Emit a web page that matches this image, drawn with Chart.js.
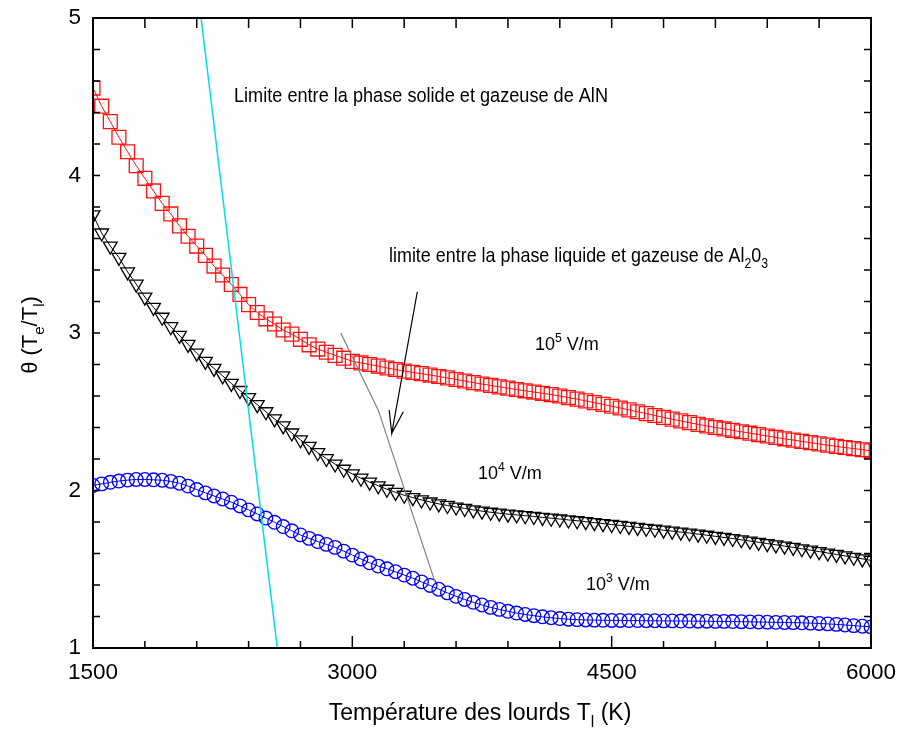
<!DOCTYPE html>
<html>
<head>
<meta charset="utf-8">
<script src="https://cdn.jsdelivr.net/npm/chart.js@4"></script>
<style>
  html, body { margin: 0; padding: 0; background: #fff; }
  #wrap { width: 899px; height: 737px; }
</style>
</head>
<body>
<div id="wrap"><canvas id="graph"></canvas></div>
<script>
// - - - - - - - - - - Données - - - - - - - - - -

// Température des lourds (K)
const temperatures = [
  1500, 1550, 1600, 1650, 1700, 1750, 1800, 1850, 1900, 1950,
  2000, 2050, 2100, 2150, 2200, 2250, 2300, 2350, 2400, 2450,
  2500, 2550, 2600, 2650, 2700, 2750, 2800, 2850, 2900, 2950,
  3000, 3050, 3100, 3150, 3200, 3250, 3300, 3350, 3400, 3450,
  3500, 3550, 3600, 3650, 3700, 3750, 3800, 3850, 3900, 3950,
  4000, 4050, 4100, 4150, 4200, 4250, 4300, 4350, 4400, 4450,
  4500, 4550, 4600, 4650, 4700, 4750, 4800, 4850, 4900, 4950,
  5000, 5050, 5100, 5150, 5200, 5250, 5300, 5350, 5400, 5450,
  5500, 5550, 5600, 5650, 5700, 5750, 5800, 5850, 5900, 5950,
  6000
];

// theta = Te/Tl pour E = 10^5 V/m
const theta_1e5 = [
  4.555, 4.440, 4.342, 4.243, 4.151, 4.062, 3.982, 3.902, 3.823, 3.756,
  3.680, 3.614, 3.552, 3.493, 3.425, 3.368, 3.308, 3.245, 3.180, 3.130,
  3.090, 3.057, 3.019, 2.993, 2.960, 2.925, 2.898, 2.878, 2.858, 2.840,
  2.820, 2.810, 2.800, 2.790, 2.778, 2.768, 2.758, 2.750, 2.742, 2.733,
  2.724, 2.715, 2.705, 2.695, 2.685, 2.676, 2.667, 2.658, 2.650, 2.641,
  2.633, 2.625, 2.617, 2.609, 2.600, 2.590, 2.580, 2.569, 2.558, 2.547,
  2.535, 2.524, 2.512, 2.500, 2.488, 2.476, 2.464, 2.453, 2.442, 2.431,
  2.420, 2.410, 2.400, 2.391, 2.382, 2.373, 2.364, 2.355, 2.346, 2.337,
  2.328, 2.320, 2.312, 2.304, 2.296, 2.288, 2.280, 2.273, 2.266, 2.259,
  2.252
];

// theta pour E = 10^4 V/m
const theta_1e4 = [
  3.750, 3.635, 3.552, 3.480, 3.388, 3.310, 3.228, 3.163, 3.100, 3.040,
  2.985, 2.928, 2.872, 2.820, 2.775, 2.728, 2.680, 2.635, 2.590, 2.545,
  2.500, 2.455, 2.410, 2.365, 2.322, 2.280, 2.240, 2.203, 2.168, 2.135,
  2.105, 2.078, 2.053, 2.030, 2.008, 1.988, 1.970, 1.955, 1.940, 1.927,
  1.915, 1.905, 1.895, 1.886, 1.877, 1.869, 1.862, 1.856, 1.850, 1.845,
  1.840, 1.835, 1.829, 1.824, 1.819, 1.813, 1.808, 1.802, 1.796, 1.790,
  1.784, 1.778, 1.772, 1.766, 1.760, 1.754, 1.748, 1.742, 1.736, 1.730,
  1.723, 1.716, 1.709, 1.702, 1.695, 1.687, 1.679, 1.671, 1.663, 1.655,
  1.647, 1.639, 1.630, 1.621, 1.612, 1.603, 1.594, 1.585, 1.576, 1.566,
  1.556
];

// theta pour E = 10^3 V/m
const theta_1e3 = [
  2.032, 2.042, 2.052, 2.060, 2.066, 2.070, 2.070, 2.068, 2.065, 2.058,
  2.046, 2.028, 2.006, 1.985, 1.965, 1.946, 1.926, 1.902, 1.877, 1.851,
  1.825, 1.798, 1.771, 1.744, 1.718, 1.696, 1.676, 1.658, 1.639, 1.615,
  1.590, 1.565, 1.541, 1.520, 1.503, 1.484, 1.463, 1.443, 1.420, 1.397,
  1.373, 1.350, 1.328, 1.308, 1.290, 1.273, 1.258, 1.245, 1.233, 1.222,
  1.213, 1.205, 1.198, 1.192, 1.187, 1.183, 1.180, 1.178, 1.177, 1.176,
  1.175, 1.175, 1.174, 1.174, 1.173, 1.173, 1.172, 1.172, 1.171, 1.171,
  1.170, 1.170, 1.169, 1.169, 1.168, 1.167, 1.166, 1.165, 1.164, 1.163,
  1.162, 1.161, 1.160, 1.158, 1.156, 1.153, 1.150, 1.146, 1.142, 1.138,
  1.134
];

// limite solide / gaz de AlN (ligne cyan)
const limite_AlN_T = [2125, 2566];
const limite_AlN_theta = [5, 1];

// limite liquide / gaz de Al2O3 (ligne grise)
const limite_Al2O3_T = [2933, 3150, 3478];
const limite_Al2O3_theta = [3.0, 2.51, 1.42];

// flèche : départ, pointe, aile gauche, pointe, aile droite
const fleche_T = [3376, 3228, 3213, 3228, 3295];
const fleche_theta = [3.262, 2.363, 2.511, 2.363, 2.50];

// graduations
const xTickLabels = [1500, 3000, 4500, 6000];
const xMinorTicks = [1500, 1800, 2100, 2400, 2700, 3000, 3300, 3600, 3900, 4200, 4500, 4800, 5100, 5400, 5700, 6000];
const yTickLabels = [1, 2, 3, 4, 5];
const yMinorTicks = [1.2, 1.4, 1.6, 1.8, 2, 2.2, 2.4, 2.6, 2.8, 3, 3.2, 3.4, 3.6, 3.8, 4, 4.2, 4.4, 4.6, 4.8];

const FONT = "'Liberation Sans', Arial, Helvetica, sans-serif";

function pts(xs, ys) {
  return xs.map((x, i) => ({ x: x, y: ys[i] }));
}

// texte avec indices / exposants
function drawRich(ctx, parts, x, y, size, opts) {
  opts = opts || {};
  const seg = parts.map(p => {
    const s = (p.sub || p.sup) ? size * 0.68 : size;
    ctx.font = s + 'px ' + FONT;
    return { t: p.t, s: s, w: ctx.measureText(p.t).width, dy: p.sub ? size * 0.3 : (p.sup ? -size * 0.42 : 0) };
  });
  const total = seg.reduce((a, b) => a + b.w, 0);
  const sx = opts.width ? opts.width / total : 1;
  ctx.save();
  ctx.translate(x, y);
  if (opts.rotate) ctx.rotate(opts.rotate);
  ctx.scale(sx, 1);
  ctx.fillStyle = '#000';
  ctx.textBaseline = 'alphabetic';
  ctx.textAlign = 'left';
  let cx = opts.center ? -total / 2 : 0;
  seg.forEach(g => {
    ctx.font = g.s + 'px ' + FONT;
    ctx.fillText(g.t, cx, g.dy);
    cx += g.w;
  });
  ctx.restore();
}

// cadre, graduations intérieures et textes
const cadrePlugin = {
  id: 'cadre',
  afterDatasetsDraw(chart) {
    const ctx = chart.ctx, a = chart.chartArea;
    const xs = chart.scales.x, ys = chart.scales.y;
    ctx.save();
    ctx.strokeStyle = '#000';
    ctx.lineWidth = 1.5;
    ctx.beginPath();
    xMinorTicks.forEach(v => {
      const px = xs.getPixelForValue(v);
      const major = xTickLabels.includes(v);
      ctx.moveTo(px, a.bottom); ctx.lineTo(px, a.bottom - (major ? 12 : 7));
      ctx.moveTo(px, a.top); ctx.lineTo(px, a.top + 10);
    });
    yMinorTicks.forEach(v => {
      const py = ys.getPixelForValue(v);
      ctx.moveTo(a.left, py); ctx.lineTo(a.left + 7, py);
      ctx.moveTo(a.right, py); ctx.lineTo(a.right - 7, py);
    });
    ctx.stroke();
    ctx.lineWidth = 2;
    ctx.strokeRect(a.left, a.top, a.right - a.left, a.bottom - a.top);
    ctx.restore();

    drawRich(ctx, [{ t: 'Limite entre la phase solide et gazeuse de AlN' }], 234, 101.5, 20.5, { width: 374 });
    drawRich(ctx, [{ t: 'limite entre la phase liquide et gazeuse de Al' }, { t: '2', sub: true }, { t: '0' }, { t: '3', sub: true }], 389, 261.5, 21, { width: 379 });
    drawRich(ctx, [{ t: '10' }, { t: '5', sup: true }, { t: ' V/m' }], 535, 349.5, 18);
    drawRich(ctx, [{ t: '10' }, { t: '4', sup: true }, { t: ' V/m' }], 478, 478.5, 18);
    drawRich(ctx, [{ t: '10' }, { t: '3', sup: true }, { t: ' V/m' }], 586, 589.5, 18);
    drawRich(ctx, [{ t: 'Température des lourds T' }, { t: 'l', sub: true }, { t: ' (K)' }], 480, 720, 23, { center: true });
    drawRich(ctx, [{ t: 'θ (T' }, { t: 'e', sub: true }, { t: '/T' }, { t: 'l', sub: true }, { t: ')' }], 37, 335, 22, { center: true, rotate: -Math.PI / 2 });
  }
};

const serie = (label, data, color, style, radius, rotation) => ({
  label: label,
  data: pts(temperatures, data),
  showLine: true,
  borderColor: color,
  borderWidth: 1,
  pointStyle: style,
  pointRadius: radius,
  pointRotation: rotation || 0,
  pointBorderColor: color,
  pointBorderWidth: 1.3,
  pointBackgroundColor: 'rgba(0,0,0,0)',
  pointHoverRadius: radius
});

const trait = (label, data, color, width) => ({
  label: label,
  data: data,
  showLine: true,
  borderColor: color,
  borderWidth: width,
  pointRadius: 0,
  pointHoverRadius: 0,
  fill: false
});

const ctx_graph = document.getElementById('graph').getContext('2d');

const graph = new Chart(ctx_graph, {
  type: 'scatter',
  data: {
    datasets: [
      trait('AlN', pts(limite_AlN_T, limite_AlN_theta), '#00dcef', 1.5),
      trait('Al2O3', pts(limite_Al2O3_T, limite_Al2O3_theta), '#808080', 1.2),
      trait('flèche', pts(fleche_T, fleche_theta), '#000', 1.2),
      serie('10^5 V/m', theta_1e5, '#ff1010', 'rect', 9.8),
      serie('10^4 V/m', theta_1e4, '#000000', 'triangle', 8, 180),
      serie('10^3 V/m', theta_1e3, '#0000ff', 'circle', 6.8)
    ]
  },
  options: {
    responsive: true,
    maintainAspectRatio: false,
    animation: false,
    layout: { padding: { left: 0, top: 18, right: 28, bottom: 0 } },
    plugins: {
      legend: { display: false },
      tooltip: { enabled: false }
    },
    scales: {
      x: {
        type: 'linear',
        min: 1500,
        max: 6000,
        afterBuildTicks: s => { s.ticks = xTickLabels.map(v => ({ value: v })); },
        afterFit: s => { s.height = 89; s.paddingLeft = 0; s.paddingRight = 0; },
        ticks: { color: '#000', padding: 11, font: { size: 22.5, family: FONT }, maxRotation: 0, callback: v => String(v) },
        grid: { display: false, drawTicks: false },
        border: { display: false }
      },
      y: {
        type: 'linear',
        min: 1,
        max: 5,
        afterBuildTicks: s => { s.ticks = yTickLabels.map(v => ({ value: v })); },
        afterFit: s => { s.width = 93; s.paddingTop = 0; s.paddingBottom = 0; },
        ticks: { color: '#000', padding: 12, font: { size: 22.5, family: FONT }, callback: v => String(v) },
        grid: { display: false, drawTicks: false },
        border: { display: false }
      }
    }
  },
  plugins: [cadrePlugin]
});
</script>
</body>
</html>
